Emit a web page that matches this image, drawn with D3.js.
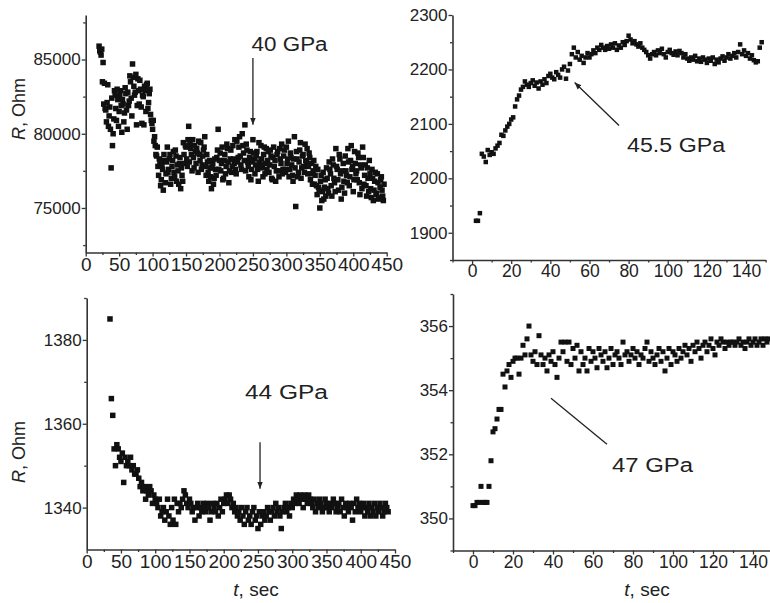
<!DOCTYPE html>
<html>
<head>
<meta charset="utf-8">
<script src="https://cdn.jsdelivr.net/npm/d3@7"></script>
<style>
  body { margin: 0; background: #fff; }
  svg { display: block; font-family: "Liberation Sans", Arial, sans-serif; }
</style>
</head>
<body>
<svg id="chart" width="770" height="603"></svg>
<script>
// ---- data read off the figure (R in Ohm, sampled every step seconds) ----
// 40 GPa, even seconds
const p1Start = 20, p1Step = 2;
const p1R = [
  85900, 85500, 85700, 84800, 83400, 81600, 82100, 80500, 81800, 77700,
  79200, 81000, 82600, 80900, 82300, 81500, 82900, 80100, 82000, 81400,
  82700, 80300, 81900, 83900, 82400, 84700, 83200, 82800, 80600, 83700,
  82000, 83000, 80700, 82500, 83200, 81500, 83400, 82100, 83000, 80900,
  80300, 79500, 79200, 78500, 77800, 78300, 76500, 77900, 76200, 78200,
  77300, 79100, 77600, 78600, 77000, 78200, 77400, 78900, 76800, 77500,
  78000, 76300, 77200, 79400, 78000, 79100, 77800, 80500, 79300, 78600,
  79600, 77700, 78800, 79000, 77400, 78600, 79400, 77900, 78900, 79800,
  77200, 78100, 76800, 77700, 76300, 78000, 77000, 77600, 78400, 80300,
  78200, 77500, 79100, 77000, 78600, 77800, 79000, 76700, 78300, 77400,
  79200, 78000, 77600, 79500, 78400, 79800, 77900, 80000, 78700, 80600,
  79300, 78100, 77100, 78800, 77600, 79600, 78300, 77900, 78800, 76800,
  78100, 79200, 77700, 78600, 77300, 79000, 78200, 77400, 78900, 77000,
  78400, 77800, 76800, 78600, 77500, 79000, 78000, 77300, 78500, 77600,
  79100, 78300, 77100, 78700, 77900, 76800, 79800, 75100, 78300, 77400,
  78900, 77000, 78500, 77800, 79300, 78100, 77300, 78700, 76900, 78000,
  77500, 76600, 77800, 75900, 76400, 75000, 77200, 76100, 75600, 76900,
  77700, 76300, 78100, 77300, 75800, 77900, 76700, 79000, 77600, 76200,
  78300, 75600, 77500, 76800, 78500, 77200, 79000, 76500, 78200, 77600,
  76100, 78800, 77300, 76900, 78400, 75900, 77700, 79100, 76600, 77900,
  75800, 77000, 78200, 76300, 77600, 75500, 76800, 75900, 77300, 75600,
  76400, 77100, 75800, 76600
];
// 40 GPa, odd seconds
const p1bStart = 21, p1bStep = 2;
const p1bR = [
  85600, 85300, 83500, 82000, 81700, 80800, 83300, 81200, 80300, 82400,
  80000, 82900, 81700, 83000, 80500, 82600, 81900, 82300, 80800, 83100,
  81600, 82800, 82200, 83500, 81200, 83800, 82600, 84000, 81900, 82900,
  83600, 81800, 82600, 80600, 82900, 83300, 81700, 82700, 81300, 80700,
  80900, 79800, 78600, 79100, 77200, 78100, 76900, 77600, 78600, 76700,
  78100, 77400, 78300, 76600, 77800, 78800, 77100, 78500, 77900, 76600,
  78400, 77700, 76800, 78600, 79200, 78300, 79600, 78100, 79000, 77500,
  78400, 79200, 78000, 78700, 79500, 78200, 77600, 78500, 79100, 77800,
  78600, 77400, 78200, 77100, 77700, 76600, 78300, 77200, 78900, 77600,
  78700, 78000, 76900, 78200, 77300, 79300, 78100, 77500, 78900, 77800,
  78300, 79600, 77300, 78100, 79100, 78500, 77600, 79200, 78200, 77500,
  78900, 77800, 78400, 76900, 78100, 78700, 77300, 78500, 77600, 79400,
  77900, 78300, 77100, 79100, 78000, 77600, 78800, 77900, 78500, 76900,
  79100, 78200, 77500, 78800, 77100, 78300, 79300, 77600, 78900, 77400,
  78000, 79500, 77600, 78400, 77200, 78300, 77700, 78800, 77100, 78100,
  79400, 77700, 78600, 77400, 78200, 79000, 77800, 78400, 77300, 76600,
  78200, 77200, 76500, 77600, 76200, 76800, 75500, 77400, 76400, 75800,
  77000, 76000, 77600, 76500, 78300, 77000, 76100, 77800, 76900, 78600,
  77300, 76400, 78000, 76000, 77500, 76700, 78100, 77100, 79200, 77800,
  76900, 78000, 77500, 78700, 76700, 77900, 76300, 78400, 77200, 76500,
  77700, 76100, 77300, 75700, 77000, 76200, 77400, 76000, 76700, 75700,
  76900, 76200, 75500
];

// 45.5 GPa
const p2Start = 2, p2Step = 1;
const p2R = [
  1922, 1922, 1936, 2045, 2040, 2030, 2052, 2043, 2048, 2045,
  2055, 2060, 2065, 2080, 2078, 2088, 2095, 2100, 2108, 2112,
  2132, 2145, 2152, 2163, 2168, 2178, 2172, 2168, 2175, 2180,
  2170, 2176, 2165, 2178, 2172, 2182, 2175, 2188, 2192, 2185,
  2182, 2195, 2190, 2185, 2200, 2205, 2183, 2198, 2210, 2228,
  2240, 2222, 2232, 2218, 2225, 2212, 2222, 2230, 2222, 2228,
  2235, 2230, 2240, 2236, 2245, 2240, 2236, 2243, 2238, 2246,
  2240, 2248, 2236, 2244, 2240, 2250, 2245, 2252, 2262, 2255,
  2248, 2252, 2246, 2242, 2248, 2240, 2236, 2232, 2226, 2220,
  2228, 2232, 2226, 2235, 2230, 2238, 2228, 2222, 2232, 2236,
  2230, 2227, 2233, 2226, 2234, 2230, 2222, 2228, 2220, 2216,
  2222, 2218, 2225, 2215, 2220, 2214, 2222, 2218, 2212, 2220,
  2216, 2222, 2210, 2218, 2213, 2220, 2224, 2216, 2222, 2228,
  2220, 2225, 2230, 2222, 2232, 2246, 2228, 2235, 2225, 2230,
  2220, 2226, 2217, 2213, 2215, 2240, 2250
];

// 44 GPa
const p3Start = 34, p3Step = 2;
const p3R = [
  1385, 1366, 1362, 1354, 1350, 1355, 1354, 1352, 1351, 1353,
  1346, 1352, 1350, 1351, 1350, 1352, 1349, 1350, 1348, 1348,
  1349, 1347, 1345, 1346, 1344, 1345, 1342, 1344, 1343, 1345,
  1344, 1341, 1343, 1342, 1341, 1340, 1342, 1338, 1339, 1340,
  1337, 1339, 1342, 1338, 1336, 1340, 1337, 1342, 1336, 1341,
  1339, 1341, 1340, 1342, 1344, 1343, 1341, 1340, 1342, 1341,
  1339, 1340, 1337, 1340, 1341, 1338, 1340, 1339, 1341, 1340,
  1339, 1341, 1340, 1337, 1339, 1341, 1340, 1339, 1341, 1338,
  1340, 1342, 1339, 1341, 1342, 1343, 1341, 1343, 1342, 1340,
  1341, 1339, 1340, 1338, 1339, 1337, 1340, 1338, 1336, 1339,
  1340, 1337, 1338, 1336, 1339, 1340, 1337, 1338, 1335, 1339,
  1336, 1338, 1339, 1337, 1338, 1340, 1339, 1337, 1339, 1340,
  1338, 1341, 1339, 1340, 1338, 1335, 1339, 1340, 1341, 1339,
  1340, 1338, 1341, 1340, 1342, 1341, 1343, 1342, 1341, 1343,
  1342, 1340, 1343, 1342, 1341, 1343, 1342, 1341, 1340, 1342,
  1339, 1341, 1340, 1342, 1341, 1339, 1340, 1342, 1341, 1340,
  1339, 1341, 1340, 1342, 1341, 1339, 1340, 1341, 1339, 1342,
  1340, 1338, 1341, 1340, 1339, 1341, 1340, 1337, 1341, 1339,
  1342, 1340, 1341, 1339, 1340, 1341, 1338, 1340, 1339, 1341,
  1338, 1340, 1339, 1341, 1338, 1340, 1339, 1341, 1340, 1338,
  1339, 1341, 1340, 1339
];

// 47 GPa
const p4Start = 0, p4Step = 1;
const p4R = [
  350.4, 350.4, 350.5, 350.5, 351.0, 350.5, 350.5, 350.5, 351.0, 351.8,
  352.7, 352.8, 353.1, 353.4, 353.4, 354.5, 354.1, 354.6, 354.8, 354.4,
  354.9, 355.0, 355.0, 354.5, 355.0, 355.4, 355.1, 355.6, 356.0, 355.1,
  354.9, 355.2, 354.8, 355.7, 355.1, 354.8, 355.0, 354.6, 355.1, 354.9,
  355.2, 354.8, 354.4, 355.0, 355.5, 355.2, 355.5, 354.9, 355.5, 354.8,
  355.3, 355.0, 355.4, 354.6, 355.2, 354.8, 355.0, 354.6, 355.3, 354.9,
  355.2, 355.0, 354.7, 355.3, 355.1, 354.9, 355.2, 354.7, 355.0, 355.3,
  354.8, 355.1, 355.2, 355.0, 354.8, 355.5, 355.1, 355.2, 354.9, 355.1,
  355.3, 355.0, 355.2, 354.8, 355.1, 355.0, 355.3, 355.5, 354.9, 355.2,
  355.0, 354.8, 355.1, 355.3, 354.9, 355.2, 354.6, 355.0, 355.3, 354.8,
  355.2, 355.1, 354.9, 355.3, 355.0, 355.2, 355.4, 355.1, 355.3, 354.9,
  355.4, 355.2, 355.5, 355.3, 355.0, 355.4, 355.5, 355.2, 355.4, 355.6,
  355.3, 355.1, 355.5, 355.4, 355.6, 355.5, 355.3, 355.5, 355.4, 355.5,
  355.5, 355.4, 355.5, 355.6, 355.4, 355.5, 355.3, 355.5, 355.6, 355.4,
  355.5, 355.6, 355.4, 355.5, 355.6, 355.4, 355.6, 355.5, 355.6
];

// tick values
const ticksX450 = [0, 50, 100, 150, 200, 250, 300, 350, 400, 450];
const minorX450 = [25, 75, 125, 175, 225, 275, 325, 375, 425];
const ticksX140 = [0, 20, 40, 60, 80, 100, 120, 140];
const minorX140 = [-10, 10, 30, 50, 70, 90, 110, 130, 150];
const p1YTicks = [75000, 80000, 85000];
const p1YMinor = [72500, 77500, 82500, 87500];
const p2YTicks = [1900, 2000, 2100, 2200, 2300];
const p2YMinor = [1850, 1950, 2050, 2150, 2250];
const p3YTicks = [1340, 1360, 1380];
const p3YMinor = [1350, 1370, 1390];
const p4YTicks = [350, 352, 354, 356];
const p4YMinor = [349, 351, 353, 355, 357];

const toPoints = (start, step, vals) => vals.map((r, i) => ({ t: start + i * step, r }));

const svg = d3.select('#chart');
const axisColor = '#333';

// arrowhead
svg.append('defs').append('marker')
    .attr('id', 'head')
    .attr('viewBox', '0 0 10 10')
    .attr('refX', 10).attr('refY', 5)
    .attr('markerWidth', 7).attr('markerHeight', 7)
    .attr('markerUnits', 'userSpaceOnUse')
    .attr('orient', 'auto')
    .append('path')
    .attr('d', 'M0,1 L10,5 L0,9 Z')
    .attr('fill', '#222');

const drawPanel = (p) => {
    const x = d3.scaleLinear().domain(p.xDomain).range(p.xRange);
    const y = d3.scaleLinear().domain(p.yDomain).range(p.yRange);
    const g = svg.append('g');

    // x axis
    const xa = g.append('g').attr('transform', `translate(0,${p.yRange[0]})`)
        .call(d3.axisBottom(x).tickValues(p.xTicks).tickSize(4).tickSizeOuter(0)
            .tickPadding(1).tickFormat(d3.format('d')));
    xa.selectAll('text').attr('font-size', p.xFont).attr('fill', '#222');
    g.append('g').attr('transform', `translate(0,${p.yRange[0]})`)
        .call(d3.axisBottom(x).tickValues(p.xMinor).tickSize(2.5).tickSizeOuter(0).tickFormat(''))
        .select('.domain').remove();

    // y axis
    const ya = g.append('g').attr('transform', `translate(${p.xRange[0]},0)`)
        .call(d3.axisLeft(y).tickValues(p.yTicks).tickSize(4).tickSizeOuter(0)
            .tickPadding(1).tickFormat(d3.format('d')));
    ya.selectAll('text').attr('font-size', 17).attr('fill', '#222');
    g.append('g').attr('transform', `translate(${p.xRange[0]},0)`)
        .call(d3.axisLeft(y).tickValues(p.yMinor).tickSize(2.5).tickSizeOuter(0).tickFormat(''))
        .select('.domain').remove();

    g.selectAll('.domain').attr('stroke', axisColor).attr('stroke-width', 1.6);
    g.selectAll('.tick line').attr('stroke', axisColor).attr('stroke-width', 1.3);

    // points
    const s = p.size;
    g.append('g').selectAll('rect')
        .data(p.points)
        .join('rect')
        .attr('x', d => x(d.t) - s / 2)
        .attr('y', d => y(d.r) - s / 2)
        .attr('width', s)
        .attr('height', s)
        .attr('fill', '#111');

    // annotation
    const a = p.note;
    g.append('line')
        .attr('x1', x(a.from[0])).attr('y1', y(a.from[1]))
        .attr('x2', x(a.to[0])).attr('y2', y(a.to[1]))
        .attr('stroke', '#222').attr('stroke-width', 1.3)
        .attr('marker-end', a.head ? 'url(#head)' : null);
    g.append('text')
        .attr('x', x(a.at[0])).attr('y', y(a.at[1]))
        .attr('font-size', 20)
        .attr('fill', '#222')
        .attr('textLength', a.len)
        .attr('lengthAdjust', 'spacingAndGlyphs')
        .text(a.text);

    if (p.yLabelAt) {
        const t = g.append('text')
            .attr('transform', `translate(25,${p.yLabelAt}) rotate(-90)`)
            .attr('text-anchor', 'middle')
            .attr('font-size', 18)
            .attr('fill', '#222');
        t.append('tspan').attr('font-style', 'italic').text('R');
        t.append('tspan').text(', Ohm');
    }
    if (p.xLabelAt) {
        const t = g.append('text')
            .attr('x', p.xLabelAt)
            .attr('y', 596)
            .attr('text-anchor', 'middle')
            .attr('font-size', 19)
            .attr('fill', '#222');
        t.append('tspan').attr('font-style', 'italic').text('t');
        t.append('tspan').text(', sec');
    }
};

drawPanel({
    xDomain: [0, 450], xRange: [85.7, 386.7],
    yDomain: [72000, 88000], yRange: [252.5, 15],
    xTicks: ticksX450, xMinor: minorX450, yTicks: p1YTicks, yMinor: p1YMinor,
    xFont: 19, size: 5.5,
    points: toPoints(p1Start, p1Step, p1R).concat(toPoints(p1bStart, p1bStep, p1bR)),
    note: { text: '40 GPa', at: [248, 85550], len: 76, from: [250, 85100], to: [250, 80600], head: true },
    yLabelAt: 109
});

drawPanel({
    xDomain: [-10, 150], xRange: [452.5, 765.6],
    yDomain: [1850, 2300], yRange: [260, 15],
    xTicks: ticksX140, xMinor: minorX140, yTicks: p2YTicks, yMinor: p2YMinor,
    xFont: 17.5, size: 4.5,
    points: toPoints(p2Start, p2Step, p2R),
    note: { text: '45.5 GPa', at: [79.2, 2048], len: 98, from: [75.1, 2097], to: [52.4, 2176], head: true }
});

drawPanel({
    xDomain: [0, 450], xRange: [86.7, 395],
    yDomain: [1330, 1390], yRange: [549.5, 298],
    xTicks: ticksX450, xMinor: minorX450, yTicks: p3YTicks, yMinor: p3YMinor,
    xFont: 19, size: 5.5,
    points: toPoints(p3Start, p3Step, p3R),
    note: { text: '44 GPa', at: [231, 1365.9], len: 83, from: [253, 1355.6], to: [253, 1344.5], head: true },
    yLabelAt: 452, xLabelAt: 256
});

drawPanel({
    xDomain: [-10, 150], xRange: [453, 773],
    yDomain: [349, 357], yRange: [550.5, 294],
    xTicks: ticksX140, xMinor: minorX140, yTicks: p4YTicks, yMinor: p4YMinor,
    xFont: 17.5, size: 5,
    points: toPoints(p4Start, p4Step, p4R),
    note: { text: '47 GPa', at: [69.5, 351.44], len: 81, from: [67, 352.31], to: [39, 353.75], head: false },
    xLabelAt: 647
});
</script>
</body>
</html>
